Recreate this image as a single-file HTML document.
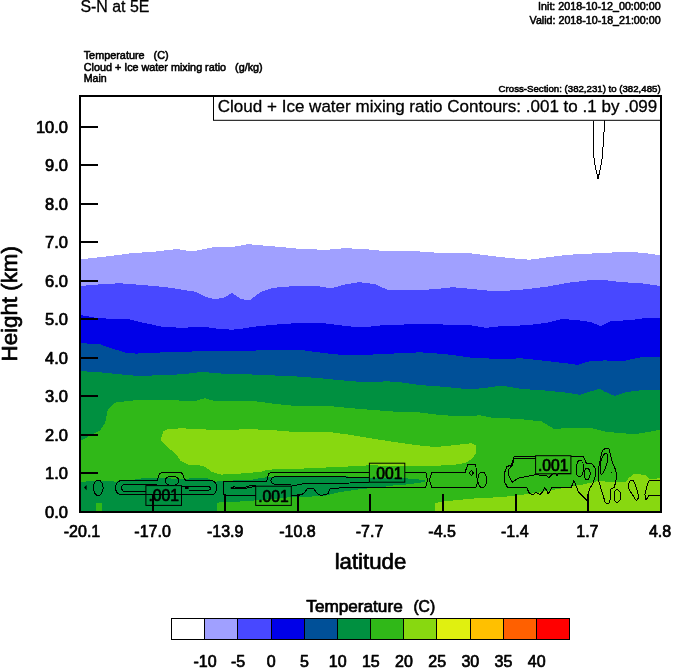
<!DOCTYPE html>
<html lang="en"><head><meta charset="utf-8"><title>S-N at 5E</title>
<style>
html,body{margin:0;padding:0;background:#fff;}
body{width:674px;height:668px;position:relative;overflow:hidden;font-family:"Liberation Sans",Arial,Helvetica,sans-serif;}
</style></head><body>
<svg width="674" height="668" viewBox="0 0 674 668" style="position:absolute;left:0;top:0">
<rect width="674" height="668" fill="#fff"/>
<g shape-rendering="crispEdges">
<polygon points="80.0,259.2 81.3,259.2 105.4,256.6 130.9,253.3 156.3,251.5 176.7,249.0 192.0,251.5 214.9,247.0 232.7,247.0 247.9,244.2 275.4,246.5 300.9,249.0 326.3,249.8 344.1,248.2 364.5,249.0 382.3,250.8 420.0,251.5 445.4,253.3 470.9,253.3 496.3,256.6 514.1,258.4 529.4,259.7 547.2,257.4 567.6,254.8 590.0,253.6 616.0,252.3 636.3,252.3 649.0,253.6 660.0,255.4 661.0,255.4 661.0,512.0 80.0,512.0" fill="#a0a0ff"/>
<polygon points="80.0,285.9 81.3,285.9 105.4,283.9 120.7,283.3 143.6,285.1 166.5,287.2 181.8,289.7 194.5,291.5 207.2,297.3 214.9,299.4 225.0,297.3 231.9,293.0 240.3,298.6 247.9,300.6 250.0,299.9 260.2,292.3 272.9,287.9 295.8,285.9 316.2,285.9 331.4,288.4 344.1,284.6 359.4,282.1 374.7,284.1 387.4,289.7 402.7,289.7 420.0,290.0 435.3,289.2 453.1,287.2 470.9,288.9 496.3,291.5 521.8,289.7 547.2,286.7 567.6,282.8 590.0,280.2 605.8,280.3 621.0,282.1 641.4,283.3 660.0,285.9 661.0,285.9 661.0,512.0 80.0,512.0" fill="#4848ff"/>
<polygon points="80.0,315.2 81.3,315.2 95.3,317.7 113.1,319.0 128.3,319.0 143.6,322.8 161.4,326.6 181.8,327.9 202.1,326.6 219.9,329.1 232.7,329.7 247.9,327.9 250.0,327.1 275.4,324.6 300.9,322.8 326.3,323.5 346.7,326.1 362.0,327.4 382.3,325.3 402.7,324.6 420.0,323.5 445.4,324.6 470.9,325.3 486.2,327.9 501.4,326.1 526.9,325.3 547.2,322.8 562.5,319.0 577.8,320.2 590.5,322.0 600.7,326.1 610.9,321.0 631.2,320.2 646.5,317.7 660.0,317.7 661.0,317.7 661.0,512.0 80.0,512.0" fill="#0000e8"/>
<polygon points="80.0,343.1 81.3,343.1 100.4,344.4 110.5,348.2 125.8,352.6 136.0,353.6 156.3,352.6 181.8,352.0 207.2,350.8 232.7,351.5 250.0,350.8 275.4,349.5 300.9,350.0 326.3,353.3 346.7,355.4 364.5,355.1 382.3,353.8 402.7,353.3 420.0,352.3 445.4,354.1 470.9,357.6 496.3,358.9 521.8,358.4 547.2,361.0 567.6,363.5 577.8,364.8 590.5,361.0 605.8,360.4 621.0,361.5 641.4,357.1 660.0,356.6 661.0,356.6 661.0,512.0 80.0,512.0" fill="#005098"/>
<polygon points="80.0,371.1 81.3,371.1 100.4,372.4 120.7,374.4 141.1,376.2 161.4,374.9 181.8,374.4 202.1,371.9 217.4,373.2 232.7,374.4 250.0,374.4 275.4,375.5 300.9,376.7 326.3,378.8 351.8,381.3 369.6,382.1 387.4,381.3 402.7,382.6 420.0,385.1 445.4,386.9 470.9,389.5 486.2,387.7 501.4,385.6 521.8,388.9 547.2,390.7 567.6,392.8 580.3,394.8 590.5,391.5 599.4,388.9 605.8,392.2 614.7,395.8 626.0,392.2 641.4,390.2 660.0,389.7 661.0,389.7 661.0,512.0 80.0,512.0" fill="#009040"/>
<polygon points="80.0,440.4 81.0,440.4 100.2,430.4 105.2,422.8 107.7,410.2 115.3,402.6 130.4,400.6 155.7,399.6 180.9,400.6 193.5,401.3 204.8,398.3 213.7,400.6 231.3,400.6 250.0,400.5 275.2,403.9 300.4,406.4 325.7,405.6 350.9,408.2 376.1,410.2 401.3,412.2 420.0,412.5 441.8,415.2 467.1,416.5 479.7,415.2 492.3,417.7 504.0,418.2 519.1,419.0 541.8,421.5 554.4,429.1 569.6,427.8 589.7,427.8 604.9,431.6 617.5,432.9 635.1,434.1 650.3,431.6 660.0,429.8 661.0,429.8 661.0,512.0 80.0,512.0" fill="#30b818"/>
<polygon points="80.0,481.7 81.0,481.7 106.7,480.8 115.6,481.7 133.4,479.9 140.5,478.5 158.3,478.1 186.8,479.0 190.7,478.1 206.7,478.1 215.6,481.7 224.5,480.8 251.2,479.9 260.1,478.1 267.2,477.3 290.0,475.8 307.8,476.4 325.6,476.0 343.4,476.0 354.8,477.2 369.4,478.0 404.8,478.4 414.2,478.7 423.1,480.2 425.0,480.6 425.0,481.6 417.2,483.2 406.8,484.4 400.0,485.0 392.0,485.6 384.5,486.8 369.7,488.2 354.8,489.9 340.0,492.0 325.6,495.6 307.8,496.8 293.9,496.8 267.2,499.5 238.8,501.6 224.5,501.6 216.5,503.0 216.5,512.0 81.0,512.0 80.0,512.0" fill="#009040"/>
<rect x="96" y="503" width="6.3" height="9" fill="#30b818"/>
<polygon points="160.7,439.0 163.2,431.6 168.3,429.1 180.9,428.3 201.0,429.1 216.2,430.4 231.3,429.8 250.0,429.1 275.2,430.4 300.4,432.4 325.7,431.6 350.9,434.9 376.1,439.2 401.3,443.0 417.8,445.3 435.6,447.1 453.4,445.3 471.2,443.2 475.7,445.3 476.2,452.5 473.0,457.8 465.9,462.8 453.4,464.9 435.6,465.8 417.8,466.2 400.0,466.0 369.0,465.3 343.4,466.8 325.6,467.5 307.8,468.4 290.0,468.9 269.0,469.6 260.1,471.9 238.8,473.7 221.0,474.6 212.0,471.9 203.1,465.7 189.0,464.8 180.0,460.3 177.0,455.0 167.0,446.7 160.7,440.4" fill="#88d810"/>
<polygon points="434.7,512.0 434.7,503.2 444.5,501.4 462.3,499.6 480.1,497.9 500.0,497.3 517.8,495.2 535.6,493.1 553.4,489.8 571.2,486.6 582.9,484.5 592.6,482.3 599.2,480.8 611.1,482.3 625.9,481.5 628.9,477.8 633.3,474.4 640.8,474.4 646.7,475.6 649.7,479.3 654.9,478.9 661.0,477.8 661.0,512.0" fill="#88d810"/>
</g>
<g fill="none" stroke="#000" stroke-width="1" stroke-linejoin="round" shape-rendering="crispEdges">
<path d="M98.2,480 C101,480 103.1,484 103.1,487.8 C103.1,491.5 101,495.6 98.2,495.6 C95.4,495.6 93.4,491.5 93.4,487.8 C93.4,484 95.4,480 98.2,480 Z"/>
<path d="M121,480.5 L157.2,480.5 L158.6,475.5 Q159.6,472.6 162.5,472.6 L180.5,472.6 Q182.2,472.6 183,475 L184.3,478.6 L186,480.5 L212,480.5 Q216.6,481.6 216.6,487.6 Q216.6,493.6 212,494.8 L121,494.8 Q115.6,493.6 115.6,487.6 Q115.6,481.6 121,480.5 Z"/>
<path d="M157,484.2 L123.5,484.4 Q119.3,487.8 123.5,491.3 L146,491.3"/>
<path d="M181.5,486.2 L208.5,486.2 Q212.5,488.4 208.5,490.6 L189,490.6"/>
<path d="M172,476.4 C176,476.4 178.8,478.2 178.8,480.8 C178.8,483.4 176,485.3 172,485.3 C168,485.3 165.1,483.4 165.1,480.8 C165.1,478.2 168,476.4 172,476.4 Z"/>
<path d="M255.7,495.2 L224,495.2 L223.8,481.4 L266.6,481.4 L268.2,475 Q269,472.5 272,472.5 L369.4,472.5"/>
<path d="M404.8,472.5 L425.8,472.5 L427.6,480 L425.8,487 L384,487 L349,487.2 L331,488.6 L329.4,489.5 L328.3,493.3 Q326,495.2 322,495.2 Q317.6,495.2 316.2,492 L313.8,489 L307.2,488.8 L304.6,492.6 Q302.5,495.2 298,495.2 L291.3,495.2"/>
<path d="M255.7,485.4 L251.2,485.3 L244.1,487.6 L233.4,486.9 L233.4,488.8 L242.3,488.5 L248,487.9 L255.7,486"/>
<path d="M369.4,477.3 L348,477.2 L338,476.3 L276,476.3 Q271,477.5 271,480.5 Q271,483.8 276,484.4 L291.3,484.4"/>
<path d="M291.3,486.2 L304.2,483.5 L350,483 L369.4,482.3"/>
<path d="M432,472.5 L465,472.5 L467.6,465 Q468.5,464 471,464 L474.8,464 Q476,465 476.6,472 L477.4,482.7 L475.7,487.7 L432,487.7 L429.4,480 Z"/>
<path d="M471.4,470.3 L473.3,473 L471.4,475.6 L469.4,473 Z"/>
<path d="M482.2,472 C484.8,472 486.7,475.5 486.7,479.8 C486.7,484.2 484.8,487.7 482.2,487.7 C479.7,487.7 477.8,484.2 477.8,479.8 C477.8,475.5 479.7,472 482.2,472 Z"/>
<path d="M535.6,456.4 L514.2,456.4 L511.3,464.9 L506.8,466.7 L504.2,473.8 L505,482.7 L507.7,487.7 L526.7,487.7 L529.4,493.4 L532.9,494.8 L535.6,492.5 L538.3,493.4 L540,494.8 L542.7,491.6 L544.5,488 L546.3,489.8 L548,493.4 L549.8,491.6 L551.6,487.7 L571.2,487.7 L573.9,480.6 L578.3,491.6 L583.5,497 L587.2,500.5 L588.1,493.4 L590,488 L593.3,482.7 L595.4,475.6 L595.4,468.5 L592.3,464 L586.3,463.1 L583.7,456.9 L570.9,456.4"/>
<path d="M535.6,458.7 L514.2,458.7 L512.5,464.9 L508.5,469.4 L508.9,475.6 L512.1,482.4 L517.8,478.3 L535.6,474.7"/>
<path d="M535.6,474.7 L546.3,475.6 L549,477.7 L551.6,474.7 L555.2,473 L557,475.6 L558.8,473 L570.9,473.8"/>
<path d="M580,460.2 C582.5,460.5 583.8,464.5 583.5,469 C583.2,473.5 581.5,477 579.5,476.8 C577,476.5 575.8,472.5 576.2,468 C576.6,463.5 578,460 580,460.2 Z"/>
<path d="M586.5,468.3 C588.8,468.3 590.4,470.8 590.2,473.8 C590,477 588.5,480 587,480 C585.2,480 584,477 584.2,474 C584.4,471 585,468.3 586.5,468.3 Z"/>
<path d="M605.9,448.2 L602.4,450.4 L600.3,459.3 L598.4,469.7 L598.2,478.6 L600.2,486 L602.9,494.9 L605.2,502.3 L607.4,503.8 L608.9,503 L610.4,499.3 L610.8,489 L614.1,487.5 L615.5,483 L616.7,475.6 L615.5,469.7 L612.3,462.3 L610.4,454.8 L608.9,448.9 Z"/>
<path d="M605.9,453.4 C607.6,453.6 608.4,456.5 607.8,460 C607,465 603.5,474 601.4,474.1 C599.8,474 599.8,468 600.6,463 C601.6,457.5 604,453.2 605.9,453.4 Z"/>
<path d="M617.3,489.7 C619.2,489.7 620.7,492.5 620.7,496 C620.7,499.5 619.2,502.3 617.3,502.3 C615.5,502.3 614,499.5 614,496 C614,492.5 615.5,489.7 617.3,489.7 Z"/>
<path d="M631.9,480 C633.6,480 635.5,484 637,490 C638.5,495 639,498 637.5,499.5 C636.5,500.5 635.5,500.5 634.5,498 C633.5,495.5 629.5,491 628.5,488 C627.8,485 629.5,480 631.9,480 Z"/>
<path d="M661,480 L649.7,480 L647.4,484.5 L644.9,494.9 L646,500.1 L649,495.6 L661,495.6"/>
<path d="M593.5,120.5 L593.5,154.3 L595,165 L598,178.8 L600.5,168 L602.3,157.7 L604.8,120.5"/>
</g>
<rect x="185" y="487" width="3.6" height="2" fill="#000"/>
<rect x="611" y="472" width="1" height="1" fill="#000"/>
<path d="M86.6,485 L84,487.6 L86.6,490.2 Z" fill="#000"/>
<rect x="230.8" y="487" width="3" height="2" fill="#000"/>
<rect x="145.9" y="485.6" width="35.6" height="19.8" fill="none" stroke="#000" stroke-width="1"/>
<text x="163.7" y="501.3" font-family="Liberation Sans, Arial, Helvetica, sans-serif" stroke="#000" stroke-width="0.7" stroke-linejoin="round" font-size="16" text-anchor="middle" textLength="30.5" lengthAdjust="spacingAndGlyphs">.001</text>
<rect x="255.7" y="486.2" width="35.6" height="19.2" fill="none" stroke="#000" stroke-width="1"/>
<text x="273.5" y="501.6" font-family="Liberation Sans, Arial, Helvetica, sans-serif" stroke="#000" stroke-width="0.7" stroke-linejoin="round" font-size="16" text-anchor="middle" textLength="30.5" lengthAdjust="spacingAndGlyphs">.001</text>
<rect x="369.4" y="463.2" width="35.4" height="19.0" fill="none" stroke="#000" stroke-width="1"/>
<text x="387.1" y="478.5" font-family="Liberation Sans, Arial, Helvetica, sans-serif" stroke="#000" stroke-width="0.7" stroke-linejoin="round" font-size="16" text-anchor="middle" textLength="30.5" lengthAdjust="spacingAndGlyphs">.001</text>
<rect x="535.6" y="455.7" width="35.3" height="18.1" fill="none" stroke="#000" stroke-width="1"/>
<text x="553.2" y="470.6" font-family="Liberation Sans, Arial, Helvetica, sans-serif" stroke="#000" stroke-width="0.7" stroke-linejoin="round" font-size="16" text-anchor="middle" textLength="30.5" lengthAdjust="spacingAndGlyphs">.001</text>
<g stroke="#000" stroke-width="2" fill="none" shape-rendering="crispEdges">
<rect x="80.0" y="96.0" width="581.0" height="416.0"/>
<rect x="152" y="494" width="2" height="18" fill="#000" stroke="none"/>
<rect x="224" y="494" width="2" height="18" fill="#000" stroke="none"/>
<rect x="297" y="494" width="2" height="18" fill="#000" stroke="none"/>
<rect x="369" y="494" width="2" height="18" fill="#000" stroke="none"/>
<rect x="442" y="494" width="2" height="18" fill="#000" stroke="none"/>
<rect x="515" y="494" width="2" height="18" fill="#000" stroke="none"/>
<rect x="587" y="494" width="2" height="18" fill="#000" stroke="none"/>
<rect x="80" y="472" width="18" height="2" fill="#000" stroke="none"/>
<rect x="80" y="434" width="18" height="2" fill="#000" stroke="none"/>
<rect x="80" y="395" width="18" height="2" fill="#000" stroke="none"/>
<rect x="80" y="357" width="18" height="2" fill="#000" stroke="none"/>
<rect x="80" y="318" width="18" height="2" fill="#000" stroke="none"/>
<rect x="80" y="280" width="18" height="2" fill="#000" stroke="none"/>
<rect x="80" y="241" width="18" height="2" fill="#000" stroke="none"/>
<rect x="80" y="203" width="18" height="2" fill="#000" stroke="none"/>
<rect x="80" y="164" width="18" height="2" fill="#000" stroke="none"/>
<rect x="80" y="126" width="18" height="2" fill="#000" stroke="none"/>
</g>
<rect x="213.5" y="96" width="448" height="24.3" fill="#fff" stroke="#000" stroke-width="1"/>
<text x="217.8" y="112" font-family="Liberation Sans, Arial, Helvetica, sans-serif" stroke="#000" stroke-width="0.7" stroke-linejoin="round" font-size="16.6" style="stroke-width:0.3" textLength="439.5" lengthAdjust="spacingAndGlyphs">Cloud + Ice water mixing ratio Contours: .001 to .1 by .099</text>
<g stroke="#000" stroke-width="2" fill="none" shape-rendering="crispEdges"><rect x="80.0" y="96.0" width="581.0" height="416.0"/></g>
<text x="68" y="517.6" font-family="Liberation Sans, Arial, Helvetica, sans-serif" stroke="#000" stroke-width="0.7" stroke-linejoin="round" font-size="16.5" text-anchor="end">0.0</text>
<text x="68" y="479.1" font-family="Liberation Sans, Arial, Helvetica, sans-serif" stroke="#000" stroke-width="0.7" stroke-linejoin="round" font-size="16.5" text-anchor="end">1.0</text>
<text x="68" y="440.6" font-family="Liberation Sans, Arial, Helvetica, sans-serif" stroke="#000" stroke-width="0.7" stroke-linejoin="round" font-size="16.5" text-anchor="end">2.0</text>
<text x="68" y="402.1" font-family="Liberation Sans, Arial, Helvetica, sans-serif" stroke="#000" stroke-width="0.7" stroke-linejoin="round" font-size="16.5" text-anchor="end">3.0</text>
<text x="68" y="363.6" font-family="Liberation Sans, Arial, Helvetica, sans-serif" stroke="#000" stroke-width="0.7" stroke-linejoin="round" font-size="16.5" text-anchor="end">4.0</text>
<text x="68" y="325.1" font-family="Liberation Sans, Arial, Helvetica, sans-serif" stroke="#000" stroke-width="0.7" stroke-linejoin="round" font-size="16.5" text-anchor="end">5.0</text>
<text x="68" y="286.6" font-family="Liberation Sans, Arial, Helvetica, sans-serif" stroke="#000" stroke-width="0.7" stroke-linejoin="round" font-size="16.5" text-anchor="end">6.0</text>
<text x="68" y="248.1" font-family="Liberation Sans, Arial, Helvetica, sans-serif" stroke="#000" stroke-width="0.7" stroke-linejoin="round" font-size="16.5" text-anchor="end">7.0</text>
<text x="68" y="209.6" font-family="Liberation Sans, Arial, Helvetica, sans-serif" stroke="#000" stroke-width="0.7" stroke-linejoin="round" font-size="16.5" text-anchor="end">8.0</text>
<text x="68" y="171.1" font-family="Liberation Sans, Arial, Helvetica, sans-serif" stroke="#000" stroke-width="0.7" stroke-linejoin="round" font-size="16.5" text-anchor="end">9.0</text>
<text x="68" y="132.6" font-family="Liberation Sans, Arial, Helvetica, sans-serif" stroke="#000" stroke-width="0.7" stroke-linejoin="round" font-size="16.5" text-anchor="end">10.0</text>
<text x="82.0" y="536.5" font-family="Liberation Sans, Arial, Helvetica, sans-serif" stroke="#000" stroke-width="0.7" stroke-linejoin="round" font-size="16" text-anchor="middle">-20.1</text>
<text x="152.6" y="536.5" font-family="Liberation Sans, Arial, Helvetica, sans-serif" stroke="#000" stroke-width="0.7" stroke-linejoin="round" font-size="16" text-anchor="middle">-17.0</text>
<text x="225.2" y="536.5" font-family="Liberation Sans, Arial, Helvetica, sans-serif" stroke="#000" stroke-width="0.7" stroke-linejoin="round" font-size="16" text-anchor="middle">-13.9</text>
<text x="297.4" y="536.5" font-family="Liberation Sans, Arial, Helvetica, sans-serif" stroke="#000" stroke-width="0.7" stroke-linejoin="round" font-size="16" text-anchor="middle">-10.8</text>
<text x="369.5" y="536.5" font-family="Liberation Sans, Arial, Helvetica, sans-serif" stroke="#000" stroke-width="0.7" stroke-linejoin="round" font-size="16" text-anchor="middle">-7.7</text>
<text x="442.1" y="536.5" font-family="Liberation Sans, Arial, Helvetica, sans-serif" stroke="#000" stroke-width="0.7" stroke-linejoin="round" font-size="16" text-anchor="middle">-4.5</text>
<text x="514.8" y="536.5" font-family="Liberation Sans, Arial, Helvetica, sans-serif" stroke="#000" stroke-width="0.7" stroke-linejoin="round" font-size="16" text-anchor="middle">-1.4</text>
<text x="587.4" y="536.5" font-family="Liberation Sans, Arial, Helvetica, sans-serif" stroke="#000" stroke-width="0.7" stroke-linejoin="round" font-size="16" text-anchor="middle">1.7</text>
<text x="660.0" y="536.5" font-family="Liberation Sans, Arial, Helvetica, sans-serif" stroke="#000" stroke-width="0.7" stroke-linejoin="round" font-size="16" text-anchor="middle">4.8</text>
<text x="370.5" y="569" font-family="Liberation Sans, Arial, Helvetica, sans-serif" stroke="#000" stroke-width="0.7" stroke-linejoin="round" font-size="22" text-anchor="middle" textLength="71.7" lengthAdjust="spacingAndGlyphs">latitude</text>
<text transform="translate(17.2,303.8) rotate(-90)" font-family="Liberation Sans, Arial, Helvetica, sans-serif" stroke="#000" stroke-width="0.7" stroke-linejoin="round" font-size="22" text-anchor="middle" textLength="115.2" lengthAdjust="spacingAndGlyphs">Height (km)</text>
<text x="80.4" y="11.7" font-family="Liberation Sans, Arial, Helvetica, sans-serif" stroke="#000" stroke-width="0.7" stroke-linejoin="round" font-size="15.8" style="stroke-width:0.3" textLength="69" lengthAdjust="spacingAndGlyphs">S-N at 5E</text>
<text x="660.6" y="10.4" font-family="Liberation Sans, Arial, Helvetica, sans-serif" stroke="#000" stroke-width="0.7" stroke-linejoin="round" style="stroke-width:0.55" font-size="10.6" text-anchor="end" textLength="122.5" lengthAdjust="spacingAndGlyphs">Init: 2018-10-12_00:00:00</text>
<text x="660.6" y="23.6" font-family="Liberation Sans, Arial, Helvetica, sans-serif" stroke="#000" stroke-width="0.7" stroke-linejoin="round" style="stroke-width:0.55" font-size="10.6" text-anchor="end" textLength="131" lengthAdjust="spacingAndGlyphs">Valid: 2018-10-18_21:00:00</text>
<text x="83.7" y="58.7" font-family="Liberation Sans, Arial, Helvetica, sans-serif" stroke="#000" stroke-width="0.7" stroke-linejoin="round" style="stroke-width:0.55" font-size="10.6" textLength="85" lengthAdjust="spacingAndGlyphs" xml:space="preserve">Temperature   (C)</text>
<text x="83.7" y="70.8" font-family="Liberation Sans, Arial, Helvetica, sans-serif" stroke="#000" stroke-width="0.7" stroke-linejoin="round" style="stroke-width:0.55" font-size="10.6" textLength="179" lengthAdjust="spacingAndGlyphs" xml:space="preserve">Cloud + Ice water mixing ratio   (g/kg)</text>
<text x="83.7" y="82.4" font-family="Liberation Sans, Arial, Helvetica, sans-serif" stroke="#000" stroke-width="0.7" stroke-linejoin="round" style="stroke-width:0.55" font-size="10.6">Main</text>
<text x="660.6" y="92.3" font-family="Liberation Sans, Arial, Helvetica, sans-serif" stroke="#000" stroke-width="0.7" stroke-linejoin="round" style="stroke-width:0.55" font-size="9.6" text-anchor="end" textLength="162" lengthAdjust="spacingAndGlyphs">Cross-Section: (382,231) to (382,485)</text>
<text y="612.3" font-family="Liberation Sans, Arial, Helvetica, sans-serif" stroke="#000" stroke-width="0.7" stroke-linejoin="round" font-size="16.4"><tspan x="306.3" textLength="96.4" lengthAdjust="spacingAndGlyphs">Temperature</tspan> <tspan x="413.4" textLength="21.8" lengthAdjust="spacingAndGlyphs">(C)</tspan></text>
<g stroke="#000" stroke-width="1" shape-rendering="crispEdges">
<rect x="171.50" y="618.5" width="33.17" height="21" fill="#ffffff"/>
<rect x="204.67" y="618.5" width="33.17" height="21" fill="#a0a0ff"/>
<rect x="237.84" y="618.5" width="33.17" height="21" fill="#4848ff"/>
<rect x="271.01" y="618.5" width="33.17" height="21" fill="#0000e8"/>
<rect x="304.18" y="618.5" width="33.17" height="21" fill="#005098"/>
<rect x="337.35" y="618.5" width="33.17" height="21" fill="#009040"/>
<rect x="370.52" y="618.5" width="33.17" height="21" fill="#30b818"/>
<rect x="403.69" y="618.5" width="33.17" height="21" fill="#88d810"/>
<rect x="436.86" y="618.5" width="33.17" height="21" fill="#e0f010"/>
<rect x="470.03" y="618.5" width="33.17" height="21" fill="#ffc000"/>
<rect x="503.20" y="618.5" width="33.17" height="21" fill="#ff6000"/>
<rect x="536.37" y="618.5" width="33.17" height="21" fill="#ff0000"/>
</g>
<text x="205.0" y="667.2" font-family="Liberation Sans, Arial, Helvetica, sans-serif" stroke="#000" stroke-width="0.7" stroke-linejoin="round" font-size="16" text-anchor="middle">-10</text>
<text x="238.1" y="667.2" font-family="Liberation Sans, Arial, Helvetica, sans-serif" stroke="#000" stroke-width="0.7" stroke-linejoin="round" font-size="16" text-anchor="middle">-5</text>
<text x="271.3" y="667.2" font-family="Liberation Sans, Arial, Helvetica, sans-serif" stroke="#000" stroke-width="0.7" stroke-linejoin="round" font-size="16" text-anchor="middle">0</text>
<text x="304.5" y="667.2" font-family="Liberation Sans, Arial, Helvetica, sans-serif" stroke="#000" stroke-width="0.7" stroke-linejoin="round" font-size="16" text-anchor="middle">5</text>
<text x="337.7" y="667.2" font-family="Liberation Sans, Arial, Helvetica, sans-serif" stroke="#000" stroke-width="0.7" stroke-linejoin="round" font-size="16" text-anchor="middle">10</text>
<text x="370.8" y="667.2" font-family="Liberation Sans, Arial, Helvetica, sans-serif" stroke="#000" stroke-width="0.7" stroke-linejoin="round" font-size="16" text-anchor="middle">15</text>
<text x="404.0" y="667.2" font-family="Liberation Sans, Arial, Helvetica, sans-serif" stroke="#000" stroke-width="0.7" stroke-linejoin="round" font-size="16" text-anchor="middle">20</text>
<text x="437.2" y="667.2" font-family="Liberation Sans, Arial, Helvetica, sans-serif" stroke="#000" stroke-width="0.7" stroke-linejoin="round" font-size="16" text-anchor="middle">25</text>
<text x="470.3" y="667.2" font-family="Liberation Sans, Arial, Helvetica, sans-serif" stroke="#000" stroke-width="0.7" stroke-linejoin="round" font-size="16" text-anchor="middle">30</text>
<text x="503.5" y="667.2" font-family="Liberation Sans, Arial, Helvetica, sans-serif" stroke="#000" stroke-width="0.7" stroke-linejoin="round" font-size="16" text-anchor="middle">35</text>
<text x="536.7" y="667.2" font-family="Liberation Sans, Arial, Helvetica, sans-serif" stroke="#000" stroke-width="0.7" stroke-linejoin="round" font-size="16" text-anchor="middle">40</text>
</svg>
</body></html>
